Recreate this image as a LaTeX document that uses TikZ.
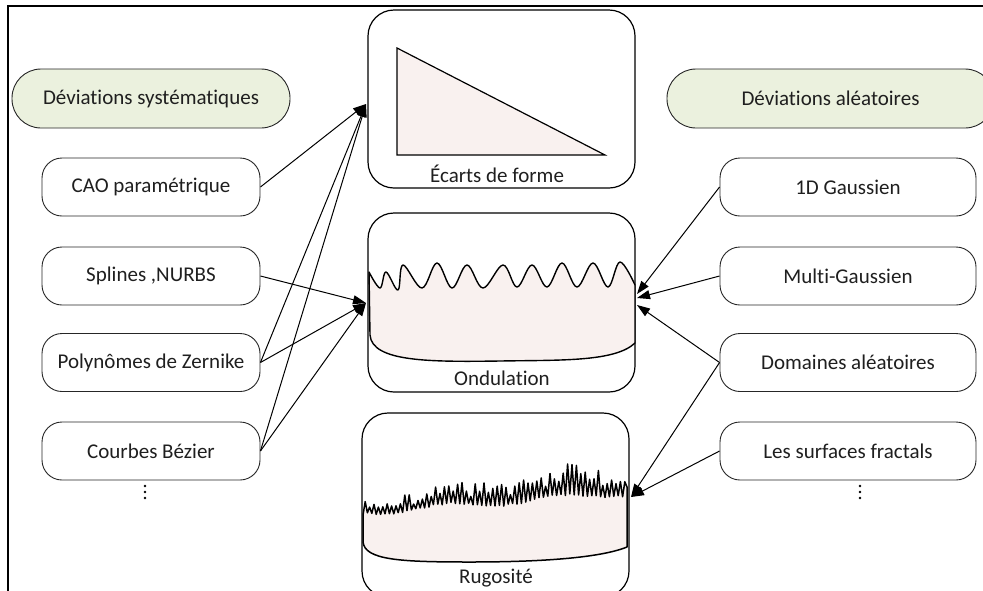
\documentclass[tikz,border=0pt]{standalone}
\usepackage{fontspec}
\setmainfont{Carlito}[Ligatures=NoCommon]
\usetikzlibrary{arrows.meta}
\definecolor{pillgreen}{RGB}{235,241,222}
\definecolor{surfpink}{RGB}{249,241,239}

\begin{document}
\begin{tikzpicture}[x=1pt,y=-1pt,
  lbl/.style={font=\fontsize{21}{25}\selectfont, text=black!88},
  pill/.style={draw=black!85, line width=0.9pt, fill=pillgreen, rounded corners=29pt,
    minimum height=59pt, inner sep=0pt, lbl},
  method/.style={draw=black!85, line width=0.9pt, fill=white, rounded corners=20pt,
    minimum height=58pt, inner sep=0pt, lbl},
  panel/.style={draw, line width=1.2pt, rounded corners=26pt, inner sep=0pt},
  surf/.style={draw, line width=1.4pt, fill=surfpink, line join=round},
  link/.style={line width=1pt, -{Triangle[length=13pt,width=9pt]}},
  dot/.style={circle, fill=black, inner sep=0pt, minimum size=2.6pt},
]
\useasboundingbox (0,0) rectangle (983,590);
\clip (0,0) rectangle (983,590);

% outer frame (runs past the right and bottom edges)
\draw[line width=2pt] (8,6) rectangle (1000,605);

% central panels
\node[panel, minimum width=267pt, minimum height=178pt] (ecarts) at (501.5,99) {};
\node[panel, minimum width=267pt, minimum height=179pt] (ondul) at (501.5,302.5) {};
\node[panel, minimum width=267pt, minimum height=184pt] (rugo) at (495.5,505) {};

% form deviation: triangle
\filldraw[surf, line width=1.2pt, line join=miter] (397,48) -- (397,155) -- (605,155) -- cycle;

% waviness profile
\filldraw[surf] (370,335) -- (369,272) -- plot[smooth,tension=0.6] coordinates {
  (369,272) (380,288) (386,272) (398,290) (403,265) (422,288) (437,263) (452,288)
  (467,265) (483,288) (503,265) (517,287) (532,265) (547,287) (562,263) (577,287)
  (593,263) (608,287) (620,262) (635,285)}
  -- (635,343) .. controls (615,362) and (560,360) .. (500,361)
  .. controls (430,362) and (372,362) .. (370,335) -- cycle;

% roughness profile
\pgfmathsetseed{11}
\filldraw[surf, line width=1.5pt] (363,542) -- (363,515)
  \foreach \i in {1,...,119} {
    -- ({363+2.2*\i}, {512 - 0.167*\i + 3*sin(7*\i) + 2*rnd
        - mod(\i,2)*(0.35+0.65*rnd)*(14+0.17*\i)})
  }
  -- (627,487) -- (627,547) .. controls (600,558) and (540,562) .. (470,562)
  .. controls (400,562) and (365,560) .. (363,542) -- cycle;

% panel captions
\node[lbl] (ecartsLbl) at (497,174) {Écarts de forme};
\node[lbl] (ondulLbl) at (502,378) {Ondulation};
\node[lbl] (rugoLbl) at (496,578) {Rugosité};

% systematic deviations
\node[pill, minimum width=278pt] (sys) at (151,98.5) {Déviations systématiques};
\node[method, minimum width=218pt] (cao) at (151,187) {CAO paramétrique};
\node[method, minimum width=218pt] (spl) at (151,276) {Splines ,NURBS};
\node[method, minimum width=218pt] (zer) at (151,362.5) {Polynômes de Zernike};
\node[method, minimum width=218pt] (bez) at (151,451) {Courbes Bézier};
\node[dot] (moreL1) at (145,486) {};
\node[dot] (moreL2) at (145,492) {};
\node[dot] (moreL3) at (145,498) {};

% random deviations
\node[pill, minimum width=327pt] (ale) at (830.5,98.5) {Déviations aléatoires};
\node[method, minimum width=256pt] (g1) at (848,187) {1D Gaussien};
\node[method, minimum width=256pt] (mg) at (848,276) {Multi-Gaussien};
\node[method, minimum width=256pt] (dom) at (848,362.5) {Domaines aléatoires};
\node[method, minimum width=256pt] (frac) at (848,451) {Les surfaces fractals};
\node[dot] (moreR1) at (860,486) {};
\node[dot] (moreR2) at (860,492) {};
\node[dot] (moreR3) at (860,498) {};

% arrow targets on the panels
\coordinate (eIn) at (366,104);
\coordinate (oInL) at (366,303);
\coordinate (oInR1) at (637,294);
\coordinate (oInR2) at (637,298);
\coordinate (oInR3) at (637,305);
\coordinate (rIn) at (631,497);

\draw[link] (cao.east) -- (eIn);
\draw[link] (zer.east) -- (eIn);
\draw[link] (bez.east) -- (eIn);
\draw[link] (spl.east) -- (oInL);
\draw[link] (zer.east) -- (oInL);
\draw[link] (bez.east) -- (oInL);
\draw[link] (g1.west) -- (oInR1);
\draw[link] (mg.west) -- (oInR2);
\draw[link] (dom.west) -- (oInR3);
\draw[link] (dom.west) -- (rIn);
\draw[link] (frac.west) -- (rIn);
\end{tikzpicture}
\end{document}
